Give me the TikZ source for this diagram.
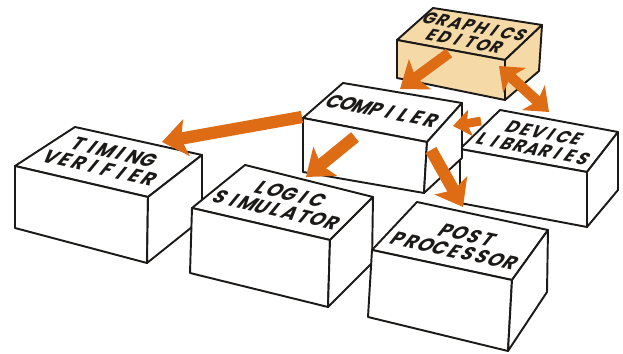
\documentclass[tikz,border=0pt]{standalone}
\usepackage{fontspec}
\newfontfamily\letterfont{Poppins}
\usepackage{xcolor}
\usetikzlibrary{arrows.meta, positioning}
\definecolor{ink}{HTML}{1C1A18}
\definecolor{c1}{HTML}{DE6C14}
\definecolor{cpaper}{HTML}{F5DAA8}
\ExplSyntaxOn
\NewDocumentCommand \evenly { O{9.6pt} m } { \tl_map_inline:nn {#2} { \makebox[#1]{##1} } }
\ExplSyntaxOff

\begin{document}
\begin{tikzpicture}[
    x=0.02cm, y=-0.02cm,
    face/.style={draw=ink, fill=white, line width=1.1pt, line join=round},
    editorface/.style={face, fill=cpaper},
    lettering/.style={font=\letterfont\bfseries\fontsize{12.5}{12}\selectfont, text=ink,
                      align=center, xslant=0.5, yscale=0.88, xscale=0.85, inner sep=0pt},
    flow/.style={draw=c1, line width=7pt, -{Stealth[length=14pt, width=21pt, inset=3pt]}},
]
\useasboundingbox (0,0) rectangle (623,354);

\filldraw[editorface] (397,40) -- (433,8) -- (542,25) -- (505,60) -- cycle;
\filldraw[editorface] (397,40) -- (505,60) -- (505,100) -- (397,78) -- cycle;
\filldraw[editorface] (505,60) -- (542,25) -- (539,71) -- (505,100) -- cycle;

\filldraw[face] (460,149) -- (500,110) -- (618,132) -- (587,172) -- cycle;
\filldraw[face] (460,149) -- (587,172) -- (587,227) -- (460,203) -- cycle;
\filldraw[face] (587,172) -- (618,132) -- (618,190) -- (587,227) -- cycle;

\filldraw[face] (303,118) -- (343,83) -- (462,103) -- (427,142) -- cycle;
\filldraw[face] (303,118) -- (427,142) -- (424,193) -- (303,172) -- cycle;
\filldraw[face] (427,142) -- (462,103) -- (462,158) -- (424,193) -- cycle;

\filldraw[face] (15,166) -- (75,127) -- (202,155) -- (148,197) -- cycle;
\filldraw[face] (15,166) -- (148,197) -- (147,263) -- (15,228) -- cycle;
\filldraw[face] (148,197) -- (202,155) -- (202,219) -- (147,263) -- cycle;

\filldraw[face] (192,208) -- (245,165) -- (373,197) -- (330,240) -- cycle;
\filldraw[face] (192,208) -- (330,240) -- (328,307) -- (190,273) -- cycle;
\filldraw[face] (330,240) -- (373,197) -- (372,263) -- (328,307) -- cycle;

\filldraw[face] (372,250) -- (417,202) -- (548,230) -- (512,280) -- cycle;
\filldraw[face] (372,250) -- (512,280) -- (508,351) -- (368,317) -- cycle;
\filldraw[face] (512,280) -- (548,230) -- (547,292) -- (508,351) -- cycle;

\node[rotate=-11, lettering, font=\letterfont\bfseries\fontsize{11}{10.5}\selectfont] (ge) at (470,34) {\evenly[8.8pt]{GRAPHICS}\\\evenly[8.8pt]{EDITOR}};
\node[rotate=-11, lettering, font=\letterfont\bfseries\fontsize{11.5}{11.5}\selectfont] (dl) at (539,141) {\evenly[8.6pt]{DEVICE}\\\evenly[8.6pt]{LIBRARIES}};
\node[rotate=-11, lettering] (cp) at (383,111) {\evenly[9.4pt]{COMPILER}};
\node[rotate=-13, lettering] (tv) at (107,160) {\evenly{TIMING}\\\evenly{VERIFIER}};
\node[rotate=-13, lettering] (ls) at (283,202) {\evenly{LOGIC}\\\evenly{SIMULATOR}};
\node[rotate=-12, lettering] (pp) at (461,243) {\evenly{POST}\\\evenly{PROCESSOR}};

\coordinate (ge-cp) at (449,53);
\coordinate (cp-top) at (400,89);
\coordinate (ge-dl) at (499,66);
\coordinate (dl-ge) at (549,112);
\coordinate (dl-cp) at (481,121);
\coordinate (cp-side) at (453,126);
\coordinate (cp-tv) at (302,117);
\coordinate (tv-top) at (162,142);
\coordinate (cp-ls) at (355,137);
\coordinate (ls-top) at (306,177);
\coordinate (cp-pp) at (431,150);
\coordinate (pp-top) at (463,207);

\draw[flow, line width=6pt] (ge-cp) -- (cp-top);
\draw[draw=c1, line width=6pt, {Stealth[length=12pt, width=19pt, inset=3pt]}-{Stealth[length=12pt, width=19pt, inset=3pt]}] (ge-dl) -- (dl-ge);
\draw[flow, line width=5pt, -{Stealth[length=10pt, width=15pt, inset=2pt]}] (dl-cp) -- (cp-side);
\draw[flow] (cp-tv) -- (tv-top);
\draw[flow] (cp-ls) -- (ls-top);
\draw[flow] (cp-pp) -- (pp-top);
\end{tikzpicture}
\end{document}
